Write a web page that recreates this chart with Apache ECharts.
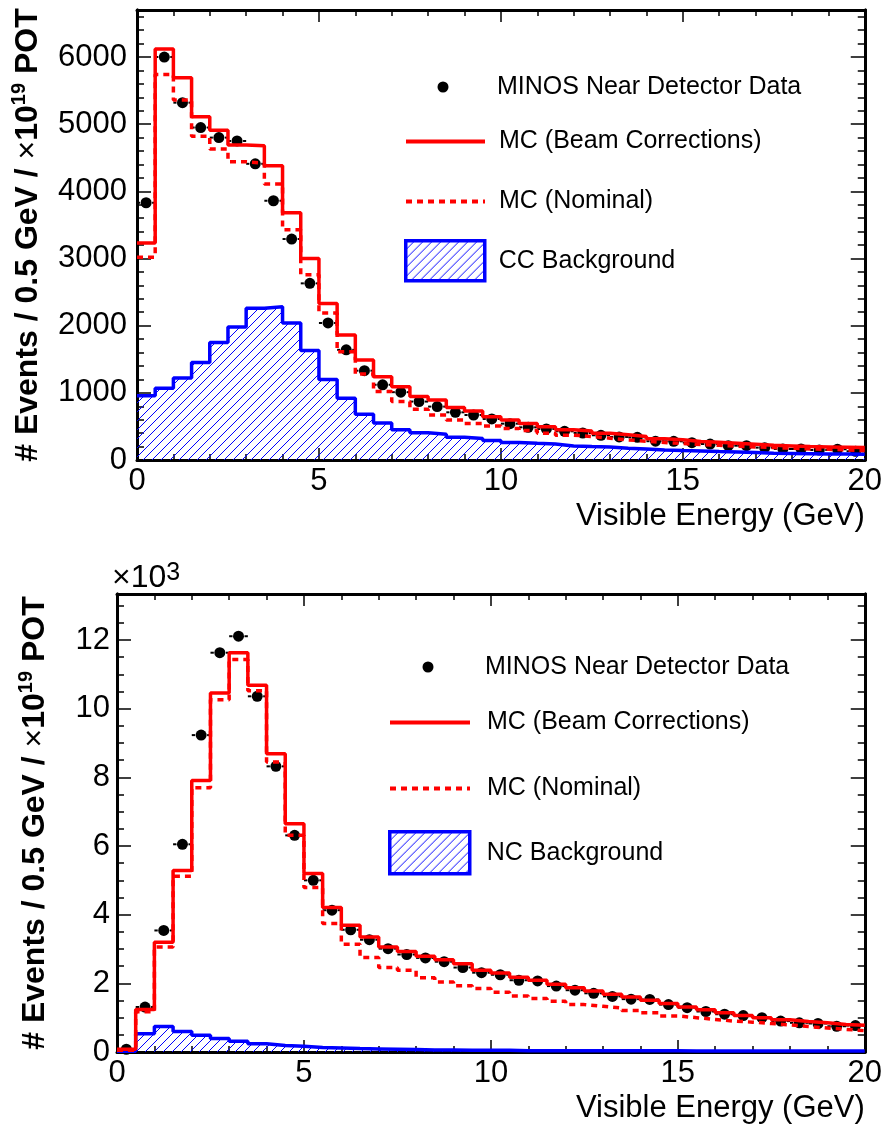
<!DOCTYPE html>
<html>
<head>
<meta charset="utf-8">
<title>MINOS Near Detector - Visible Energy</title>
<script src="https://cdn.jsdelivr.net/npm/echarts@6/dist/echarts.min.js"></script>
<style>
html, body { margin: 0; padding: 0; background: #fff; }
#chart { width: 885px; height: 1129px; }
</style>
</head>
<body>
<div id="chart"></div>
<script>
var binWidth = 0.5;
var xMax = 20;

// upper panel: events / 0.5 GeV / 1e19 POT, 40 bins of 0.5 GeV
var topData = [3830, 6000, 5320, 4950, 4800, 4750, 4410, 3860, 3290, 2630,
    2040, 1640, 1330, 1120, 1010, 870, 795, 710, 670, 611,
    541, 487, 462, 427, 402, 368, 343, 338, 280, 278,
    258, 238, 213, 213, 184, 164, 164, 149, 160, 130];
var topBeam = [3230, 6120, 5690, 5110, 4910, 4690, 4680, 4380, 3680, 3000,
    2330, 1860, 1490, 1240, 1090, 945, 895, 780, 730, 645,
    595, 545, 495, 450, 430, 400, 375, 350, 315, 300,
    275, 265, 250, 235, 220, 210, 200, 195, 190, 185];
var topNominal = [3020, 5740, 5360, 4820, 4630, 4440, 4420, 4110, 3430, 2760,
    2190, 1610, 1280, 1020, 870, 755, 670, 595, 545, 505,
    470, 440, 400, 370, 350, 325, 300, 280, 260, 245,
    230, 220, 205, 195, 185, 175, 165, 160, 150, 140];
var topBackground = [955, 1070, 1220, 1450, 1750, 1980, 2260, 2280, 2040, 1630,
    1200, 920, 680, 550, 450, 405, 385, 340, 320, 290,
    260, 248, 238, 210, 200, 192, 175, 165, 150, 140,
    134, 125, 118, 110, 102, 98, 94, 90, 88, 85];

// lower panel: same units, in 10^3
var botData = [0.08, 1.31, 3.54, 6.05, 9.23, 11.63, 12.11, 10.36, 8.32, 6.31,
    5.00, 4.13, 3.56, 3.27, 3.01, 2.84, 2.74, 2.63, 2.46, 2.31,
    2.25, 2.09, 2.07, 1.92, 1.80, 1.71, 1.62, 1.54, 1.53, 1.38,
    1.29, 1.18, 1.10, 1.06, 1.00, 0.90, 0.85, 0.83, 0.75, 0.77];
var botBeam = [0.08, 1.24, 3.20, 5.29, 7.91, 10.46, 11.63, 10.68, 8.69, 6.65,
    5.20, 4.21, 3.69, 3.35, 3.06, 2.93, 2.79, 2.69, 2.57, 2.38,
    2.30, 2.18, 2.09, 1.97, 1.87, 1.78, 1.68, 1.60, 1.51, 1.41,
    1.31, 1.23, 1.14, 1.06, 1.00, 0.94, 0.89, 0.85, 0.80, 0.78];
var botNominal = [0.05, 1.17, 3.06, 5.12, 7.70, 10.26, 11.43, 10.52, 8.45, 6.31,
    4.79, 3.74, 3.14, 2.75, 2.46, 2.38, 2.16, 2.04, 1.93, 1.85,
    1.74, 1.63, 1.56, 1.48, 1.38, 1.33, 1.28, 1.21, 1.14, 1.05,
    1.00, 0.95, 0.90, 0.87, 0.83, 0.79, 0.74, 0.70, 0.66, 0.62];
var botBackground = [0.02, 0.53, 0.74, 0.60, 0.49, 0.39, 0.31, 0.24, 0.19, 0.17,
    0.13, 0.12, 0.10, 0.09, 0.08, 0.07, 0.06, 0.06, 0.05, 0.05,
    0.05, 0.04, 0.04, 0.04, 0.04, 0.04, 0.04, 0.04, 0.04, 0.04,
    0.03, 0.03, 0.03, 0.03, 0.03, 0.03, 0.03, 0.03, 0.03, 0.03];

var topYMax = 6700, topYStep = 1000, topYMinor = 200;
var botYMax = 13.34, botYStep = 2, botYMinor = 0.5;

var dataName = 'MINOS Near Detector Data';
var beamName = 'MC (Beam Corrections)';
var nominalName = 'MC (Nominal)';
var topBgName = 'CC Background';
var botBgName = 'NC Background';

var font = 'Liberation Sans, Arial, Helvetica, sans-serif';
var red = '#ff0000';
var blue = '#0000ff';
var histWidth = 3.5;

// diagonal hatch like ROOT fill style 3004
var hatchCanvas = document.createElement('canvas');
hatchCanvas.width = 9;
hatchCanvas.height = 9;
var hctx = hatchCanvas.getContext('2d');
hctx.strokeStyle = blue;
hctx.lineWidth = 1;
hctx.beginPath();
hctx.moveTo(0, 9); hctx.lineTo(9, 0);
hctx.moveTo(-1, 1); hctx.lineTo(1, -1);
hctx.moveTo(8, 10); hctx.lineTo(10, 8);
hctx.stroke();
var hatch = {image: hatchCanvas, repeat: 'repeat'};

function stepPoints(values) {
    var pts = [];
    for (var i = 0; i < values.length; i++) {
        pts.push([i * binWidth, values[i]]);
    }
    pts.push([values.length * binWidth, values[values.length - 1]]);
    return pts;
}

function centerPoints(values) {
    var pts = [];
    for (var i = 0; i < values.length; i++) {
        pts.push([(i + 0.5) * binWidth, values[i]]);
    }
    return pts;
}

// x error bars with a gap around the marker
function renderXErr(params, api) {
    var x = api.value(0);
    var y = api.value(1);
    var c = api.coord([x, y]);
    var l = api.coord([x - binWidth / 2, y]);
    var r = api.coord([x + binWidth / 2, y]);
    var gap = 6;
    var style = {stroke: '#000', lineWidth: 2};
    return {
        type: 'group',
        children: [
            {type: 'line', shape: {x1: l[0], y1: c[1], x2: c[0] - gap, y2: c[1]}, style: style},
            {type: 'line', shape: {x1: c[0] + gap, y1: c[1], x2: r[0], y2: c[1]}, style: style}
        ]
    };
}

function plainNumber(v) {
    return String(v);
}

function xAxisFor(gi, pos) {
    return {
        type: 'value', gridIndex: gi, position: pos,
        min: 0, max: xMax, interval: 5,
        name: pos === 'bottom' ? 'Visible Energy (GeV)' : '',
        nameLocation: 'end', nameGap: 0,
        nameTextStyle: {fontSize: 31, fontFamily: font, color: '#000', align: 'right',
            verticalAlign: 'top', padding: [41, 0, 0, 0]},
        axisLine: {show: true, onZero: false, lineStyle: {color: '#000', width: 3}},
        axisTick: {show: true, inside: true, length: 12, lineStyle: {color: '#000', width: 1.5}},
        minorTick: {show: true, splitNumber: 5, length: 6, lineStyle: {color: '#000', width: 1.5}},
        axisLabel: {show: pos === 'bottom', fontSize: 31, fontFamily: font, color: '#000', margin: 6,
            formatter: plainNumber},
        splitLine: {show: false},
        minorSplitLine: {show: false}
    };
}

function yAxisFor(gi, pos, yMax, step, major, nameGap, labelMargin) {
    var ax = {
        type: 'value', gridIndex: gi, position: pos,
        min: 0, max: yMax, interval: step,
        axisLine: {show: true, onZero: false, lineStyle: {color: '#000', width: 3}},
        axisTick: {show: true, inside: true, length: major ? 14 : 7, lineStyle: {color: '#000', width: 1.5}},
        axisLabel: {show: major && pos === 'left', fontSize: 31, fontFamily: font, color: '#000',
            margin: labelMargin || 10, showMaxLabel: false, formatter: plainNumber},
        splitLine: {show: false}
    };
    if (major && pos === 'left') {
        ax.name = '# Events / 0.5 GeV / {x|×}10{sup|19} POT';
        ax.nameLocation = 'middle';
        ax.nameRotate = 90;
        ax.nameGap = nameGap;
        ax.nameTextStyle = {
            fontSize: 32, fontWeight: 'bold', fontFamily: font, color: '#000', lineHeight: 38,
            rich: {
                x: {fontSize: 32, fontWeight: 'normal', fontFamily: font, color: '#000', lineHeight: 38},
                sup: {fontSize: 20, fontWeight: 'bold', fontFamily: font, color: '#000',
                    lineHeight: 22, verticalAlign: 'top'}
            }
        };
    }
    return ax;
}

// one legend per entry so every icon can get its own size and place
function legendFor(name, left, cy, w, h, textX, extra) {
    var item = {name: name};
    if (extra) {
        for (var k in extra) item[k] = extra[k];
    }
    return {
        data: [item],
        left: left, top: cy - h / 2,
        orient: 'vertical', padding: 0,
        itemWidth: w, itemHeight: h,
        selectedMode: false,
        textStyle: {fontSize: 25, fontFamily: font, color: '#000',
            padding: [0, 0, 0, textX - (left + w + 5)]}
    };
}

function panelSeries(gi, xBase, yBase, dataVals, beamVals, nomVals, bgVals, bgName) {
    return [
        {
            name: bgName, type: 'line', step: 'end', symbol: 'none',
            xAxisIndex: xBase, yAxisIndex: yBase,
            data: stepPoints(bgVals),
            lineStyle: {color: blue, width: histWidth},
            itemStyle: {color: blue},
            areaStyle: {color: hatch, opacity: 1}
        },
        {
            name: nominalName, type: 'line', step: 'end', symbol: 'none',
            xAxisIndex: xBase, yAxisIndex: yBase,
            data: stepPoints(nomVals),
            lineStyle: {color: red, width: histWidth, type: [6, 5]},
            itemStyle: {color: red}
        },
        {
            name: beamName, type: 'line', step: 'end', symbol: 'none',
            xAxisIndex: xBase, yAxisIndex: yBase,
            data: stepPoints(beamVals),
            lineStyle: {color: red, width: histWidth},
            itemStyle: {color: red}
        },
        {
            type: 'custom', xAxisIndex: xBase, yAxisIndex: yBase,
            data: centerPoints(dataVals),
            renderItem: renderXErr
        },
        {
            name: dataName, type: 'scatter', symbol: 'circle', symbolSize: 11,
            xAxisIndex: xBase, yAxisIndex: yBase,
            data: centerPoints(dataVals),
            itemStyle: {color: '#000', opacity: 1}
        }
    ];
}

var myChart = echarts.init(document.getElementById('chart'));
var boxLegend = {icon: 'rect', itemStyle: {color: hatch, borderColor: blue, borderWidth: 3.5}};
var solidLegend = {
    itemStyle: {color: 'rgba(0,0,0,0)', opacity: 0, borderWidth: 0},
    lineStyle: {color: red, width: 4, type: 'solid'}
};
var dashLegend = {
    itemStyle: {color: 'rgba(0,0,0,0)', opacity: 0, borderWidth: 0},
    lineStyle: {color: red, width: 4, type: [6, 5]}
};

var option = {
    animation: false,
    backgroundColor: '#fff',
    grid: [
        {left: 137, top: 10, width: 728, height: 450},
        {left: 117, top: 594, width: 749, height: 458}
    ],
    xAxis: [
        xAxisFor(0, 'bottom'), xAxisFor(0, 'top'),
        xAxisFor(1, 'bottom'), xAxisFor(1, 'top')
    ],
    yAxis: [
        yAxisFor(0, 'left', topYMax, topYStep, true, 81, 10),
        yAxisFor(0, 'left', topYMax, topYMinor, false),
        yAxisFor(0, 'right', topYMax, topYStep, true),
        yAxisFor(0, 'right', topYMax, topYMinor, false),
        yAxisFor(1, 'left', botYMax, botYStep, true, 63, 7),
        yAxisFor(1, 'left', botYMax, botYMinor, false),
        yAxisFor(1, 'right', botYMax, botYStep, true),
        yAxisFor(1, 'right', botYMax, botYMinor, false)
    ],
    legend: [
        legendFor(dataName, 437.5, 80, 11, 11, 497),
        legendFor(beamName, 404, 139, 79, 20, 497, solidLegend),
        legendFor(nominalName, 404, 199, 79, 20, 497, dashLegend),
        legendFor(topBgName, 404, 259, 79, 40, 497, boxLegend),
        legendFor(dataName, 422.5, 660, 11, 11, 485),
        legendFor(beamName, 388, 720, 80, 20, 485, solidLegend),
        legendFor(nominalName, 388, 786, 80, 20, 485, dashLegend),
        legendFor(botBgName, 388, 851, 80, 42, 485, boxLegend)
    ],
    graphic: [
        {
            type: 'text', left: 112, top: 561,
            style: {
                text: '×10{sup|3}', fill: '#000', fontSize: 32, fontFamily: font, lineHeight: 34,
                rich: {sup: {fontSize: 25, fontFamily: font, fill: '#000', verticalAlign: 'top', lineHeight: 25}}
            }
        }
    ],
    series: [].concat(
        panelSeries(0, 0, 0, topData, topBeam, topNominal, topBackground, topBgName),
        panelSeries(1, 2, 4, botData, botBeam, botNominal, botBackground, botBgName)
    )
};
myChart.setOption(option);
</script>
</body>
</html>
